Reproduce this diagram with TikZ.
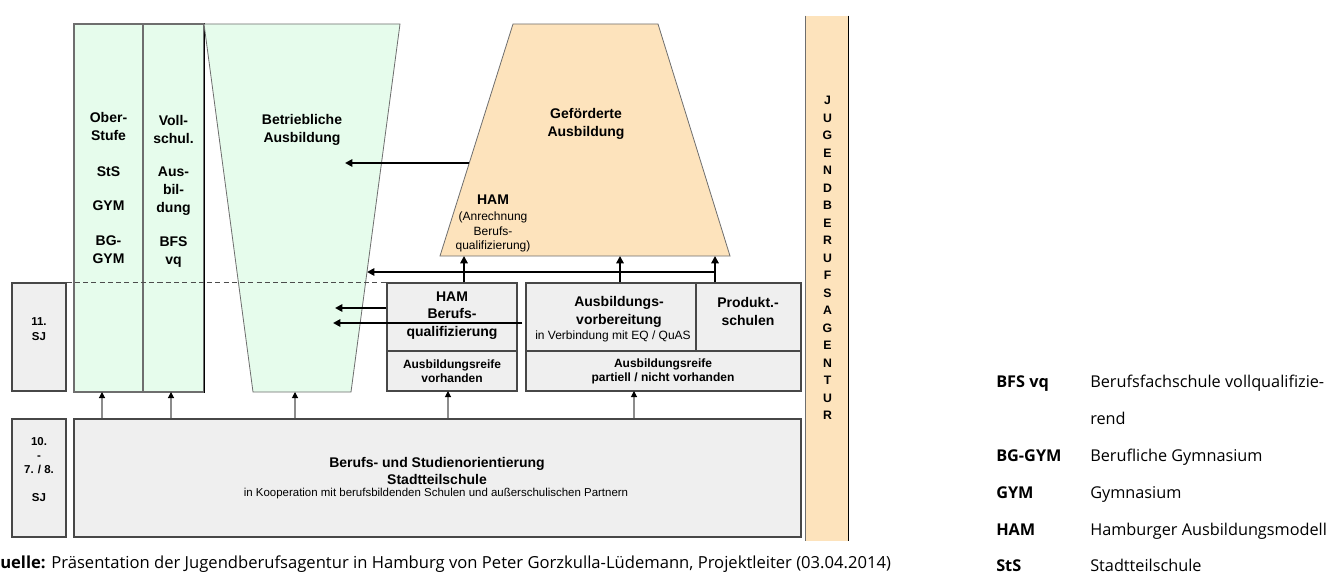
\documentclass[tikz,border=0pt]{standalone}
\usepackage{fontspec}
\setmainfont{Liberation Sans}
\newfontfamily\capfont{Open Sans}
\usetikzlibrary{arrows.meta,calc,fit}
\newcommand{\fsz}[2]{\fontsize{#1}{#2}\selectfont}
\definecolor{mint}{RGB}{230,252,236}
\definecolor{peach}{RGB}{253,227,188}
\definecolor{boxgray}{RGB}{239,239,239}
\definecolor{edgegray}{RGB}{110,110,110}
\begin{document}
\begin{tikzpicture}[x=0.75pt,y=-0.75pt,
  box/.style={draw=black!72, fill=boxgray, line width=0.8pt, inner sep=0pt},
  col/.style={draw=edgegray, fill=mint, line width=0.8pt, inner sep=0pt},
  lab/.style={font=\bfseries\fsz{10.5}{13.5}, align=center, inner sep=0pt},
  smallb/.style={font=\bfseries\fsz{9}{10.5}, align=center, inner sep=0pt},
  note/.style={font=\fsz{9}{11}, align=center, inner sep=0pt},
  sj/.style={font=\bfseries\fsz{8.6}{11.25}, align=center, inner sep=0pt},
  thickarr/.style={line width=1.4pt, -{Triangle[length=5.5pt,width=5.5pt]}},
  thinarr/.style={draw=black!45, line width=0.8pt, -{Triangle[length=4.5pt,width=4.5pt,color=black]}},
  legb/.style={font=\capfont\bfseries\fsz{12.2}{14}, anchor=base west, inner sep=0pt},
  legt/.style={font=\capfont\fsz{12.2}{14}, anchor=base west, inner sep=0pt}]
\useasboundingbox (0,0) rectangle (1330,577);
\fill[white] (0,0) rectangle (1330,577);

% left year boxes
\node[box, fit={(12,283) (66,391)}] (sj11) {};
\node[sj] (sj11t) at (39,329.5) {11.\\SJ};
\node[box, fit={(12,419) (66,537)}] (sj10) {};
\node[sj, font=\bfseries\fsz{8.6}{10.5}] (sj10t) at (39,470) {10.\\-\\7. / 8.\\[10.5pt]SJ};

% green columns
\node[col, fit={(74,24) (143,392)}] (ober) {};
\node[col, fit={(143,24) (204,392)}] (voll) {};
\draw[black, line width=0.8pt] (voll.north east) -- (voll.south east);
\filldraw[fill=mint, draw=edgegray, line width=0.6pt] (204,24) -- (400,24) -- (351,392) -- (253,392) -- cycle;

\node[lab] (t1) at (108.5,126.5) {Ober-\\Stufe};
\node[lab] (t2) at (108.5,172) {StS};
\node[lab] (t3) at (108.5,206) {GYM};
\node[lab] (t4) at (108.5,250) {BG-\\GYM};
\node[lab] (t5) at (173.5,129.5) {Voll-\\schul.};
\node[lab] (t6) at (173.5,191) {Aus-\\bil-\\dung};
\node[lab] (t7) at (173.5,252) {BFS\\vq};
\node[lab] (betr) at (302,130) {Betriebliche\\Ausbildung};

% gefoerderte Ausbildung
\filldraw[fill=peach, draw=edgegray, line width=0.6pt] (513,24) -- (658,24) -- (730,256) -- (440,256) -- cycle;
\node[lab] (gef) at (586,124) {Geförderte\\Ausbildung};
\node[lab] (gham) at (493,200) {HAM};
\node[note, font=\fsz{9}{10.9}] (ganr) at (493,232) {(Anrechnung\\Berufs-\\qualifizierung)};

% middle boxes
\node[box, fit={(387,283) (517,351)}] (hamtop) {};
\node[box, fit={(387,351) (517,391)}] (hambot) {};
\node[lab, font=\bfseries\fsz{10.5}{13.2}] (hamt) at (452,315.5) {HAM\\Berufs-\\qualifizierung};
\node[smallb] (hambt) at (452,371) {Ausbildungsreife\\vorhanden};
\node[box, fit={(526,283) (696,351)}] (avtop) {};
\node[box, fit={(696,283) (801,351)}] (prod) {};
\node[box, fit={(526,351) (801,391)}] (avbot) {};
\node[lab] (avt) at (619,312) {Ausbildungs-\\vorbereitung};
\node[note] (avn) at (613,336) {in Verbindung mit EQ / QuAS};
\node[lab] (prodt) at (748,311) {Produkt.-\\schulen};
\node[smallb] (avbt) at (663,371) {Ausbildungsreife\\partiell / nicht vorhanden};

% bottom box
\node[box, fit={(74,419) (801,537)}] (sto) {};
\node[lab] (stot1) at (437,463.5) {Berufs- und Studienorientierung};
\node[lab] (stot2) at (437,479.5) {Stadtteilschule};
\node[note, font=\fsz{8.6}{10}] (stot3) at (436,494) {in Kooperation mit berufsbildenden Schulen und außerschulischen Partnern};

% dashed line
\draw[dashed, dash pattern=on 3.8pt off 2.4pt, draw=black!70, line width=0.7pt] (sj11.north east) -- (hamtop.north west);

% Jugendberufsagentur bar
\node[fill=peach, inner sep=0pt, fit={(806,16) (848,541)}] (jba) {};
\draw[edgegray, line width=0.9pt] (jba.north west) -- (jba.south west);
\draw[black, line width=0.9pt] (jba.north east) -- (jba.south east);
\node[font=\bfseries\fsz{9.2}{13.125}, align=center, inner sep=0pt] (jbat) at (827.5,258) {J\\U\\G\\E\\N\\D\\B\\E\\R\\U\\F\\S\\A\\G\\E\\N\\T\\U\\R};

% connector end points
\coordinate (g1) at (464,256);
\coordinate (g2) at (620,256);
\coordinate (g3) at (715,256);
\coordinate (jn) at (367,272);
\coordinate (gefL) at (469,163);
\coordinate (betA) at (345,163);
\coordinate (betB) at (335,308);
\coordinate (betC) at (333,323);
\coordinate (a1) at (102,392);
\coordinate (a2) at (171,392);
\coordinate (a3) at (295,392);
\coordinate (a4) at (448,391);
\coordinate (a5) at (634,391);

% thick connectors
\draw[thickarr] (gefL) -- (betA);
\draw[thickarr] (hamtop.north -| g1) -- (g1);
\draw[thickarr] (avtop.north -| g2) -- (g2);
\draw[thickarr] (prod.north -| g3) -- (g3);
\draw[thickarr] (g3 |- jn) -- (jn);
\draw[thickarr] (hamtop.west |- betB) -- (betB);
\draw[thickarr] ($(avtop.west |- betC)+(-3,0)$) -- (betC);

% thin connectors from bottom box
\draw[thinarr] (sto.north -| a1) -- (a1);
\draw[thinarr] (sto.north -| a2) -- (a2);
\draw[thinarr] (sto.north -| a3) -- (a3);
\draw[thinarr] (sto.north -| a4) -- (a4);
\draw[thinarr] (sto.north -| a5) -- (a5);

% caption
\node[font=\capfont\fsz{12.45}{14}, anchor=base west, inner sep=0pt] (cap) at (0,568) {\textbf{uelle:} Präsentation der Jugendberufsagentur in Hamburg von Peter Gorzkulla-Lüdemann, Projektleiter (03.04.2014)};

% legend
\node[legb] (l1) at (996,387) {BFS vq};
\node[legt] (d1) at (1090,387) {Berufsfachschule vollqualifizie-};
\node[legt] (d1b) at (1090,424) {rend};
\node[legb] (l2) at (996,461) {BG-GYM};
\node[legt] (d2) at (1090,461) {Berufliche Gymnasium};
\node[legb] (l3) at (996,498) {GYM};
\node[legt] (d3) at (1090,498) {Gymnasium};
\node[legb] (l4) at (996,535) {HAM};
\node[legt] (d4) at (1090,535) {Hamburger Ausbildungsmodell};
\node[legb] (l5) at (996,571) {StS};
\node[legt] (d5) at (1090,571) {Stadtteilschule};
\end{tikzpicture}
\end{document}
